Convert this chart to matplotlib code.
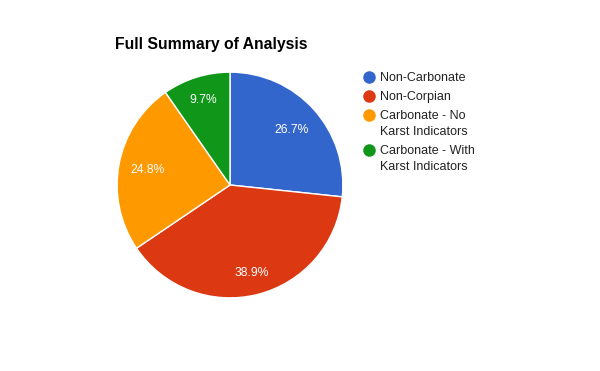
import numpy as np
import matplotlib.pyplot as plt
from matplotlib.lines import Line2D

plt.rcParams['font.family'] = ['Liberation Sans', 'DejaVu Sans']

# data
labels = ["Non-Carbonate", "Non-Corpian", "Carbonate - No\nKarst Indicators", "Carbonate - With\nKarst Indicators"]
values = [26.7, 38.9, 24.8, 9.7]
colors = ["#3366CC", "#DC3912", "#FF9900", "#109618"]

# radial position of the percent labels, per slice
label_r = [0.73, 0.80, 0.74, 0.79]

fig = plt.figure(figsize=(6, 3.71), dpi=100)
fig.patch.set_facecolor("white")

# pie axes
ax = fig.add_axes([116 / 600, 72 / 371, 228 / 600, 228 / 371])
wedges, texts, autotexts = ax.pie(values, colors=colors, startangle=90, counterclock=False,
                                  autopct="%.1f%%", pctdistance=0.76, radius=1,
                                  wedgeprops=dict(edgecolor="white", linewidth=1))
for w, t, r in zip(wedges, autotexts, label_r):
    ang = np.deg2rad((w.theta1 + w.theta2) / 2)
    t.set_position((r * np.cos(ang), r * np.sin(ang)))
    t.set_color("white")
    t.set_fontsize(8.7)
ax.set_xlim(-1.01, 1.01)
ax.set_ylim(-1.01, 1.01)
ax.set_aspect("equal")
ax.axis("off")

fig.text(115 / 600, 1 - 45 / 371, "Full Summary of Analysis", fontsize=11.3, fontweight="bold",
         va="center", ha="left", color="#000000")

# legend drawn by hand
y = 76.5
for lab, c in zip(labels, colors):
    fig.add_artist(Line2D([369 / 600], [1 - y / 371], marker="o", markersize=8,
                          color=c, linestyle="none", transform=fig.transFigure))
    lines = lab.split("\n")
    for k, line in enumerate(lines):
        fig.text(380 / 600, 1 - (y + 4.5 + 16 * k) / 371, line, fontsize=9, color="#222222",
                 va="baseline", ha="left")
    y = y + 19 + 16 * (len(lines) - 1)

fig.savefig("out.png", dpi=100)
